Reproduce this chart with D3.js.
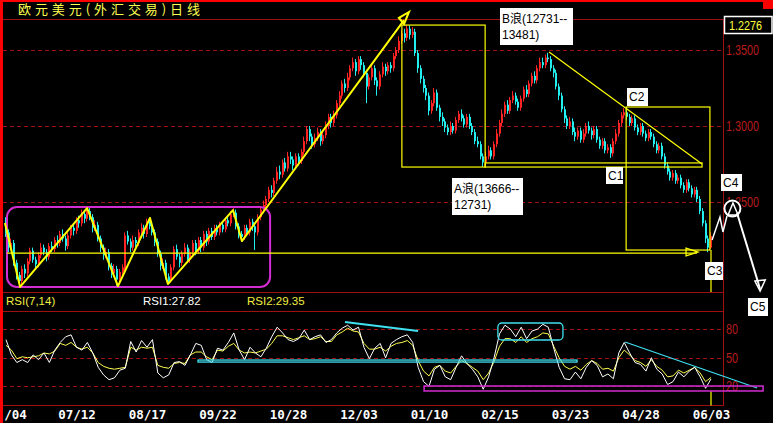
<!DOCTYPE html>
<html><head><meta charset="utf-8">
<script src="https://cdn.jsdelivr.net/npm/d3@7"></script>
<style>html,body{margin:0;padding:0;background:#000;overflow:hidden}</style>
</head><body>
<svg id="c" width="773" height="423"></svg>
<script>
const title = "欧元美元(外汇交易)日线";
const dateLabels = ["/04","07/12","08/17","09/22","10/28","12/03","01/10","02/15","03/23","04/28","06/03"];
const dateIdx = [0,26,52,78,104,130,156,182,208,234,260];
const priceTicks = [13500,13000,12500];
const rsiTicks = [80,50,20];
const lastPrice = "1.2276";
const rsiTitle = "RSI(7,14)", rsi1Label = "RSI1:27.82", rsi2Label = "RSI2:29.35";

const open = [12380,12300,12200,12230,12100,12020,11980,12060,12030,12110,
12180,12120,12090,12150,12200,12170,12140,12210,12190,12250,
12230,12290,12260,12210,12280,12330,12310,12380,12360,12420,
12390,12440,12400,12330,12350,12260,12200,12150,12170,12080,
12030,12060,11990,12040,12050,12280,12240,12200,12250,12230,
12300,12330,12290,12370,12340,12300,12240,12160,12080,12100,
12010,11980,12070,12190,12140,12100,12160,12200,12120,12170,
12230,12180,12250,12200,12290,12240,12310,12270,12330,12300,
12350,12320,12380,12360,12420,12430,12340,12290,12270,12330,
12300,12370,12340,12300,12400,12450,12480,12520,12580,12560,
12640,12700,12680,12760,12720,12800,12780,12740,12800,12770,
12830,12900,12980,12930,12880,12920,12960,12900,12940,13000,
13060,13020,13070,13150,13200,13280,13250,13320,13380,13420,
13360,13440,13400,13350,13260,13320,13380,13300,13260,13340,
13390,13360,13400,13380,13460,13500,13560,13610,13580,13640,
13600,13620,13480,13380,13310,13250,13200,13100,13150,13220,
13120,13060,13030,12990,12960,13000,12970,13040,13080,13050,
13010,13060,13000,12960,12900,12880,12800,12760,12800,12840,
12800,12880,12950,13020,13080,13140,13100,13170,13200,13160,
13120,13180,13240,13210,13280,13330,13300,13380,13420,13400,
13450,13440,13380,13350,13260,13200,13110,13050,13000,13030,
12960,12930,12970,12910,12950,13000,12970,12940,12980,12910,
12870,12900,12840,12860,12820,12900,12950,13020,13070,13090,
13060,13020,13050,12990,12960,13000,12950,12920,12960,12930,
12880,12840,12870,12800,12740,12700,12660,12690,12640,12660,
12610,12580,12630,12590,12550,12580,12520,12440,12360,12260,
12200];
const high = [12400,12320,12260,12250,12120,12040,12080,12090,12130,12200,
12200,12140,12170,12230,12220,12190,12230,12240,12270,12280,
12310,12320,12280,12300,12350,12360,12400,12410,12450,12440,
12470,12460,12420,12380,12370,12280,12220,12200,12190,12100,
12090,12080,12060,12090,12300,12310,12260,12280,12270,12320,
12360,12350,12390,12395,12360,12320,12260,12180,12130,12120,
12030,12090,12210,12220,12160,12180,12230,12220,12190,12250,
12250,12270,12270,12310,12310,12330,12330,12350,12350,12370,
12370,12400,12410,12440,12460,12450,12360,12310,12350,12350,
12390,12390,12360,12420,12470,12510,12540,12600,12610,12660,
12730,12740,12780,12790,12830,12830,12800,12820,12820,12850,
12930,13000,13000,12950,12950,12990,12980,12970,13030,13080,
13080,13100,13170,13230,13300,13310,13350,13400,13450,13440,
13460,13460,13420,13370,13340,13410,13400,13320,13360,13420,
13410,13420,13420,13480,13520,13590,13630,13640,13666,13660,
13650,13640,13500,13400,13330,13270,13220,13170,13250,13240,
13140,13090,13050,13010,13030,13020,13060,13100,13110,13070,
13080,13080,13020,12980,12930,12900,12820,12830,12870,12860,
12900,12980,13040,13110,13160,13170,13190,13230,13220,13180,
13200,13260,13270,13300,13350,13360,13400,13450,13450,13470,
13481,13460,13400,13370,13280,13220,13130,13070,13060,13050,
12990,12990,12990,12980,13020,13030,12990,13000,13000,12930,
12920,12920,12880,12880,12920,12980,13040,13090,13118,13110,
13080,13070,13070,13010,13020,13020,12970,12980,12980,12950,
12900,12890,12890,12820,12760,12720,12710,12710,12680,12680,
12630,12650,12650,12610,12600,12600,12540,12460,12380,12280,
12300];
const low = [12270,12170,12180,12080,11990,11950,11960,12000,12010,12090,
12100,12060,12070,12130,12150,12110,12120,12170,12170,12200,
12210,12240,12180,12190,12260,12280,12290,12330,12340,12360,
12370,12380,12300,12310,12240,12170,12120,12130,12050,12000,
12010,11950,11970,12020,12030,12220,12170,12180,12200,12210,
12280,12260,12270,12320,12280,12210,12140,12050,12060,11990,
11960,11970,12050,12120,12070,12080,12140,12100,12100,12150,
12150,12160,12170,12180,12210,12220,12250,12250,12280,12280,
12300,12300,12340,12340,12400,12320,12260,12240,12250,12280,
12280,12310,12184,12280,12380,12430,12460,12500,12530,12540,
12620,12650,12660,12700,12700,12750,12710,12720,12740,12750,
12810,12880,12900,12850,12860,12900,12870,12880,12920,12980,
12990,13000,13050,13130,13180,13220,13230,13300,13360,13330,
13340,13370,13320,13150,13240,13300,13270,13200,13240,13320,
13330,13340,13350,13360,13440,13480,13540,13550,13560,13570,
13580,13460,13350,13280,13220,13170,13070,13080,13130,13100,
13030,13000,12960,12940,12940,12950,12950,13020,13030,12990,
12990,12980,12940,12880,12860,12780,12731,12740,12780,12780,
12780,12860,12930,13000,13060,13080,13080,13150,13140,13100,
13100,13160,13190,13190,13260,13280,13280,13360,13380,13380,
13420,13360,13320,13240,13170,13090,13020,12980,12980,12940,
12900,12910,12890,12890,12930,12950,12910,12920,12890,12850,
12850,12820,12820,12790,12800,12880,12930,13000,13050,13040,
13000,13000,12970,12940,12940,12930,12900,12900,12910,12860,
12820,12820,12780,12720,12680,12640,12640,12620,12620,12590,
12560,12560,12570,12530,12530,12500,12420,12340,12230,12170,
12190];
const close = [12300,12200,12230,12100,12020,11980,12060,12030,12110,12180,
12120,12090,12150,12200,12170,12140,12210,12190,12250,12230,
12290,12260,12210,12280,12330,12310,12380,12360,12420,12390,
12440,12400,12330,12350,12260,12200,12150,12170,12080,12030,
12060,11990,12040,12070,12280,12240,12200,12250,12230,12300,
12330,12290,12370,12340,12300,12240,12160,12080,12100,12010,
11980,12070,12190,12140,12100,12160,12200,12120,12170,12230,
12180,12250,12200,12290,12240,12310,12270,12330,12300,12350,
12320,12380,12360,12420,12430,12340,12290,12270,12330,12300,
12370,12340,12300,12400,12450,12480,12520,12580,12560,12640,
12700,12680,12760,12720,12800,12780,12740,12800,12770,12830,
12900,12980,12930,12880,12920,12960,12900,12940,13000,13060,
13020,13070,13150,13200,13280,13250,13320,13380,13420,13360,
13440,13400,13350,13260,13320,13380,13300,13260,13340,13390,
13360,13400,13380,13460,13500,13560,13610,13580,13640,13600,
13620,13480,13380,13310,13250,13200,13100,13150,13220,13120,
13060,13030,12990,12960,13000,12970,13040,13080,13050,13010,
13060,13000,12960,12900,12880,12800,12760,12800,12840,12800,
12880,12950,13020,13080,13140,13100,13170,13200,13160,13120,
13180,13240,13210,13280,13330,13300,13380,13420,13400,13450,
13440,13380,13350,13260,13200,13110,13050,13000,13030,12960,
12930,12970,12910,12950,13000,12970,12940,12980,12910,12870,
12900,12840,12860,12820,12900,12950,13020,13070,13090,13060,
13020,13050,12990,12960,13000,12950,12920,12960,12930,12880,
12840,12870,12800,12740,12700,12660,12690,12640,12660,12610,
12580,12630,12590,12550,12580,12520,12440,12360,12260,12200,
12276];

// RSI values sampled every 2 bars
const rsiStep = 2;
const rsi1 = [69,53,45,48,45,53,48,55,45,58,
66,72,74,61,58,66,55,40,32,27,
29,37,39,67,56,68,61,69,34,29,
32,45,46,42,53,65,63,48,45,60,
58,66,76,58,48,61,55,51,60,72,
82,76,69,67,70,79,69,72,74,66,
69,76,81,84,79,82,61,49,60,65,
50,65,69,72,74,66,40,25,20,38,
42,30,27,40,52,44,38,30,17,30,
50,75,84,80,72,82,70,78,80,85,
82,60,40,28,27,35,28,40,47,42,
30,33,28,55,66,55,45,43,36,50,
38,33,22,25,35,30,36,40,30,18,
27.82];
const rsi2 = [63,58,49,51,50,51,52,55,54,57,
65,63,66,61,59,61,55,45,41,39,
38,39,40,61,58,61,60,61,42,40,
39,44,45,44,53,56,56,51,48,58,
57,62,65,58,55,56,55,57,59,65,
73,73,71,69,71,73,69,70,72,67,
67,74,77,81,78,77,65,59,59,61,
57,62,65,66,68,63,47,36,31,40,
42,36,34,41,47,44,40,36,27,34,
46,62,70,70,66,72,66,70,72,76,
75,62,50,41,38,41,37,43,47,44,
38,39,36,50,58,53,47,45,41,48,
41,37,30,31,37,34,37,40,34,25,
29.35];

// annotations in (bar index, price) / (bar index, rsi)
const waveZig = [[-0.4,12362],[5.2,11941],[29.9,12460],[41.3,11947],[53.1,12395],[59.7,11960],[83.7,12447],[87,12243],[146.8,13697]];
const waveTip = [[144.9,13711],[148.6,13750],[146.8,13671]];
const baseLine = [[0.4,12164],[254.8,12164]];
const baseArrow = [[250.8,12197],[255.2,12171],[250.8,12145]];
const boxA = [146.0,13664,176.7,12730];
const wedgeBase = [176.7,12757,256.7,12730];
const wedgeTop = [[200.3,13487],[256.7,12750]];
const boxC = [228.7,13125,259.6,12184];
const c3Main = [[260,12184],[260,11908]];
const c3Rsi = [[260,15],[260,0]];
const rangeBox = [0.37,12467,97.4,11941];
const futurePath = [[260.4,12250],[263.3,12401],[264.4,12303],[265.9,12408]];
const c4Circle = [267.9,12457];
const c4Tri = [[266.3,12414],[268.1,12493],[270,12414]];
const c5Arrow = [[269.6,12428],[278.1,11928]];
const c5Head = [[276.2,11980],[280,11987],[278.1,11914]];
const rsiSupport = [70.8,47.6,210.6,45.5];
const rsiTopLine = [[125,87.4],[152,78]];
const rsiPeakBox = [181.4,86.4,205.4,68.6];
const rsiDownLine = [[228.3,66.5],[277,18.3]];
const rsiLowBox = [154.2,20.4,279.2,15.2];
const notes = [
 {i:182.2,p:13776,w:73,h:37,lines:["B浪(12731--","13481)"]},
 {i:164.5,p:12658,w:71,h:37,lines:["A浪(13666--","12731)"]},
 {i:221.3,p:12730,w:17,h:17,lines:["C1"]},
 {i:229.0,p:13250,w:21,h:18,lines:["C2"]},
 {i:257.8,p:12105,w:18,h:18,lines:["C3"]},
 {i:263.7,p:12684,w:21,h:17,lines:["C4"]},
 {i:273.6,p:11868,w:20,h:18,lines:["C5"]}
];

const W = 773, H = 423;
const L = 3, R = 723, mainTop = 19, mainBot = 292, rsiTop = 311, rsiBot = 405;
const x = d3.scaleLinear().domain([0,260]).range([6,711]);
const y = d3.scaleLinear().domain([12500,13500]).range([202,50]);
const ry = d3.scaleLinear().domain([0,100]).range([405.5,310]);
const P = d => [x(d[0]), y(d[1])];
const PR = d => [x(d[0]), ry(d[1])];
const frameC = "#a01010", labelC = "#b81c1c";
const YEL = "#ffff00", CYAN = "#3fe0f0", MAG = "#d22cd2";

const svg = d3.select("#c");
svg.append("rect").attr("width",W).attr("height",H).attr("fill","#000");

// grids
const grid = svg.append("g").attr("stroke",frameC).attr("stroke-dasharray","4,3").attr("stroke-width",1);
grid.selectAll(".gp").data(priceTicks).join("line")
  .attr("x1",L).attr("x2",R).attr("y1",d=>Math.round(y(d))+0.5).attr("y2",d=>Math.round(y(d))+0.5);
grid.selectAll(".gr").data(rsiTicks).join("line").attr("class","gr")
  .attr("x1",L).attr("x2",R).attr("y1",d=>Math.round(ry(d))+0.5).attr("y2",d=>Math.round(ry(d))+0.5);

// frame lines
const fr = svg.append("g").attr("stroke",frameC).attr("stroke-width",1);
[mainTop, mainBot, rsiTop, rsiBot].forEach(v=>{
  fr.append("line").attr("x1",L).attr("x2",R).attr("y1",v+0.5).attr("y2",v+0.5);
});
fr.append("line").attr("x1",R+0.5).attr("x2",R+0.5).attr("y1",mainTop).attr("y2",rsiBot+1);

// axes
const ya = svg.append("g").attr("transform",`translate(${R},0)`)
  .call(d3.axisRight(y).tickValues(priceTicks).tickSize(0).tickPadding(3).tickFormat(d=>(d/10000).toFixed(4)));
const ra = svg.append("g").attr("transform",`translate(${R},0)`)
  .call(d3.axisRight(ry).tickValues(rsiTicks).tickSize(0).tickPadding(3).tickFormat(d3.format("d")));
[ya,ra].forEach(g=>{
  g.select(".domain").remove();
  g.selectAll("text").attr("fill",labelC).attr("font-family","Liberation Sans, Arial, sans-serif").attr("font-size",14);
});
ya.selectAll("text").attr("textLength",33).attr("lengthAdjust","spacingAndGlyphs");
ra.selectAll("text").attr("textLength",12).attr("lengthAdjust","spacingAndGlyphs");

const xa = svg.append("g").attr("transform",`translate(0,${rsiBot})`)
  .call(d3.axisBottom(x).tickValues(dateIdx).tickSize(0).tickPadding(5).tickFormat((d,i)=>dateLabels[i]));
xa.select(".domain").remove();
xa.selectAll("text").attr("fill","#fff").attr("font-family","DejaVu Sans Mono, monospace")
  .attr("font-weight","bold").attr("font-size",12.5);
xa.selectAll("text").filter((d,i)=>i===0).attr("x",9);

// candles
const bars = d3.range(close.length);
const cg = svg.append("g");
const colorOf = i => close[i] >= open[i] ? "#ff2424" : "#22eef0";
cg.selectAll(".wk").data(bars).join("rect")
  .attr("x",i=>Math.round(x(i))-1).attr("width",1)
  .attr("y",i=>y(high[i])).attr("height",i=>Math.max(1,y(low[i])-y(high[i])))
  .attr("fill",colorOf);
cg.selectAll(".bd").data(bars).join("rect").attr("class","bd")
  .attr("x",i=>Math.round(x(i))-1).attr("width",2)
  .attr("y",i=>y(Math.max(open[i],close[i])))
  .attr("height",i=>Math.max(1,Math.abs(y(open[i])-y(close[i]))))
  .attr("fill",colorOf);

// RSI lines
const rline = d3.line().x((d,k)=>x(k*rsiStep)).y(d=>ry(d));
svg.append("path").attr("d",rline(rsi2)).attr("fill","none").attr("stroke","#ffff50").attr("stroke-width",1);
svg.append("path").attr("d",rline(rsi1)).attr("fill","none").attr("stroke","#ffffff").attr("stroke-width",1);

// helpers
const line = d3.line();
function rectD(g, b, map, color, sw, rx){
  const a = map([b[0],b[1]]), c = map([b[2],b[3]]);
  return g.append("rect").attr("x",a[0]).attr("y",a[1]).attr("width",c[0]-a[0]).attr("height",c[1]-a[1])
    .attr("rx",rx||0).attr("fill","none").attr("stroke",color).attr("stroke-width",sw);
}
const ann = svg.append("g");

// magenta range box
rectD(ann, rangeBox, P, MAG, 2, 10);
// yellow annotations
ann.append("path").attr("d",line(baseLine.map(P))).attr("stroke",YEL).attr("stroke-width",1.3).attr("fill","none");
ann.append("path").attr("d",line(baseArrow.map(P))+"Z").attr("stroke",YEL).attr("stroke-width",1.3).attr("fill","none");
ann.append("path").attr("d",line(waveZig.map(P))).attr("stroke",YEL).attr("stroke-width",2).attr("fill","none").attr("stroke-linejoin","round");
ann.append("path").attr("d",line(waveTip.map(P))+"Z").attr("stroke",YEL).attr("stroke-width",2).attr("fill","none");
rectD(ann, boxA, P, YEL, 1.2);
rectD(ann, wedgeBase, P, YEL, 1.2);
ann.append("path").attr("d",line(wedgeTop.map(P))).attr("stroke",YEL).attr("stroke-width",1.2).attr("fill","none");
rectD(ann, boxC, P, YEL, 1.2);
ann.append("path").attr("d",line(c3Main.map(P))).attr("stroke",YEL).attr("stroke-width",1.2);
ann.append("path").attr("d",line(c3Rsi.map(PR))).attr("stroke",YEL).attr("stroke-width",1.2);

// RSI annotations
rectD(ann, rsiSupport, PR, CYAN, 1.3);
ann.append("path").attr("d",line(rsiTopLine.map(PR))).attr("stroke",CYAN).attr("stroke-width",2.2);
rectD(ann, rsiPeakBox, PR, CYAN, 1.3, 4);
ann.append("path").attr("d",line(rsiDownLine.map(PR))).attr("stroke",CYAN).attr("stroke-width",1.2);
rectD(ann, rsiLowBox, PR, MAG, 1.5);

// white projection
ann.append("path").attr("d",line(futurePath.map(P))).attr("stroke","#fff").attr("stroke-width",1.5).attr("fill","none");
ann.append("circle").attr("cx",x(c4Circle[0])).attr("cy",y(c4Circle[1])).attr("r",8)
  .attr("fill","#000").attr("stroke","#fff").attr("stroke-width",2);
ann.append("path").attr("d",line(c4Tri.map(P))+"Z").attr("stroke","#fff").attr("stroke-width",1.5).attr("fill","none");
ann.append("path").attr("d",line(c5Arrow.map(P))).attr("stroke","#fff").attr("stroke-width",2);
ann.append("path").attr("d",line(c5Head.map(P))+"Z").attr("stroke","#fff").attr("stroke-width",1.5).attr("fill","none");

// note boxes
notes.forEach(n=>{
  const g = ann.append("g").attr("transform",`translate(${Math.round(x(n.i))},${Math.round(y(n.p))})`);
  g.append("rect").attr("width",n.w).attr("height",n.h).attr("fill","#fff");
  n.lines.forEach((t,k)=>{
    g.append("text").attr("x",2).attr("y",(n.lines.length>1?15:13)+k*16).text(t)
      .attr("fill","#000").attr("font-family","Liberation Sans, Noto Sans CJK SC, sans-serif").attr("font-size",12);
  });
});

// RSI header texts
const hdr = svg.append("g").attr("font-family","Liberation Sans, Arial, sans-serif").attr("font-size",11.5);
hdr.append("text").attr("x",6).attr("y",305).attr("fill","#f0f040").text(rsiTitle);
hdr.append("text").attr("x",143).attr("y",305).attr("fill","#fff").text(rsi1Label);
hdr.append("text").attr("x",247).attr("y",305).attr("fill","#f0f040").text(rsi2Label);

// last price box
svg.append("rect").attr("x",724.5).attr("y",16.5).attr("width",47.5).attr("height",17)
  .attr("fill","#000").attr("stroke","#fff").attr("stroke-width",1.5);
svg.append("text").attr("x",729).attr("y",30).attr("fill","#ffff40").attr("font-family","Liberation Sans, Arial, sans-serif")
  .attr("font-size",13).attr("textLength",33).attr("lengthAdjust","spacingAndGlyphs").text(lastPrice);

// title
svg.append("text").attr("x",18).attr("y",14).attr("fill","#ffff50")
  .attr("font-family","Noto Sans CJK SC, sans-serif").attr("font-size",13)
  .attr("textLength",182).attr("lengthAdjust","spacing").text(title);

// red borders
svg.append("rect").attr("x",0).attr("y",0).attr("width",W).attr("height",2).attr("fill","#ff0000");
svg.append("rect").attr("x",0).attr("y",0).attr("width",3).attr("height",H).attr("fill","#ff0000");
svg.append("rect").attr("x",763).attr("y",0).attr("width",10).attr("height",9).attr("fill","#ff0000");
</script>
</body></html>
